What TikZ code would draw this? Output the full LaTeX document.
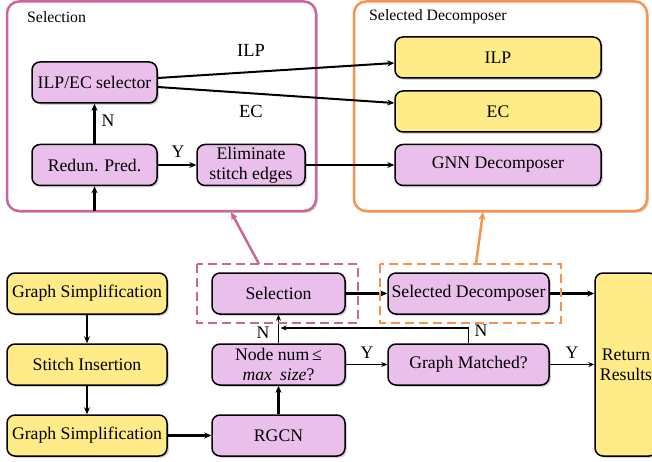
\documentclass[tikz,border=0pt]{standalone}
\usepackage{fontspec}
\setmainfont{Liberation Serif}
\usetikzlibrary{arrows.meta,shadows,calc}
\definecolor{pfill}{RGB}{235,191,235}
\definecolor{yfill}{RGB}{255,235,135}
\definecolor{pinkline}{RGB}{204,102,153}
\definecolor{orangeline}{RGB}{247,147,77}
\begin{document}
\begin{tikzpicture}[x=1pt,y=-1pt,
  shd/.style={drop shadow={shadow xshift=1.8pt, shadow yshift=-1.8pt, opacity=0.35}},
  nd/.style={draw=black, line width=1.5pt, rounded corners=8pt, inner sep=0pt,
    font=\fontsize{17.7}{20}\selectfont, align=center, shd},
  pnode/.style={nd, fill=pfill},
  ynode/.style={nd, fill=yfill},
  tarr/.style={line width=2.4pt, -{Stealth[length=7pt,width=6pt]}},
  marr/.style={line width=2pt, -{Stealth[length=7pt,width=6pt]}},
  narr/.style={line width=1.3pt, -{Stealth[length=6pt,width=5pt]}},
  lbl/.style={font=\fontsize{17.7}{20}\selectfont, inner sep=0pt},
  grp/.style={line width=2.5pt, rounded corners=12pt, fill=white, shd},
  grplbl/.style={anchor=west, font=\fontsize{15.8}{18}\selectfont, inner sep=0pt},
  dbox/.style={line width=2.2pt, dash pattern=on 9pt off 5pt}]
\useasboundingbox (0,0) rectangle (652,462);
\clip (0,0) rectangle (652,462);
\fill[white] (0,0) rectangle (652,462);

% group boxes
\draw[grp, draw=pinkline] (7,1.5) rectangle (316,211);
\draw[grp, draw=orangeline] (354,1.5) rectangle (647,211);
\node[grplbl] (sellbl) at (27,17) {Selection};
\node[grplbl] (declbl) at (369,17) {Selected Decomposer};

% selection internals
\node[pnode, minimum width=125pt, minimum height=41pt] (ilpec) at (94.5,82.5) {ILP/EC selector};
\node[pnode, minimum width=125pt, minimum height=41pt] (redun) at (94.5,165) {Redun. Pred.};
\node[pnode, minimum width=108pt, minimum height=41pt] (elim) at (251,165) {Eliminate\\stitch edges};

% decomposer internals
\node[ynode, minimum width=206pt, minimum height=41pt] (ilp) at (498,57.5) {ILP};
\node[ynode, minimum width=206pt, minimum height=41pt] (ec) at (498,111.5) {EC};
\node[pnode, minimum width=206pt, minimum height=41pt] (gnn) at (498,165) {GNN Decomposer};

\coordinate (selbot) at (94.5,211);
\draw[tarr] (selbot) -- (redun);
\draw[tarr] (redun) -- (ilpec);
\node[lbl] (nlbl1) at (108,121) {N};
\draw[tarr] (redun) -- (elim);
\node[lbl] (ylbl1) at (178,152) {Y};
\draw[marr] ($(ilpec.east)+(0,-4.5)$) -- ($(ilp.west)+(0,5.5)$);
\draw[marr] ($(ilpec.east)+(0,4.5)$) -- ($(ec.west)+(0,-8.5)$);
\node[lbl, font=\fontsize{18.5}{21}\selectfont] (ilplbl) at (251,50) {ILP};
\node[lbl, font=\fontsize{18.5}{21}\selectfont] (eclbl) at (251,111) {EC};
\draw[tarr] (elim) -- (gnn);

% bottom flow
\node[ynode, minimum width=160pt, minimum height=41pt] (gs1) at (87,293.5) {Graph Simplification};
\node[ynode, minimum width=160pt, minimum height=41pt] (si) at (87,364.5) {Stitch Insertion};
\node[ynode, minimum width=160pt, minimum height=41pt] (gs2) at (87,435.5) {Graph Simplification};
\node[pnode, minimum width=133pt, minimum height=41pt] (sel) at (278.5,293.5) {Selection};
\node[pnode, minimum width=133pt, minimum height=41pt] (nn) at (278.5,364.5) {Node num\,≤\\\textit{max\hspace{0.45em}size}?};
\node[pnode, minimum width=133pt, minimum height=41pt] (rgcn) at (278.5,435.5) {RGCN};
\node[pnode, minimum width=161pt, minimum height=41pt] (sd) at (468.5,293.5) {Selected Decomposer};
\node[pnode, minimum width=161pt, minimum height=41pt] (gm) at (468.5,364.5) {Graph Matched?};
\node[ynode, minimum width=62pt, minimum height=183pt] (ret) at (626,364.5) {Return\\Results};

\draw[tarr] (gs1) -- (si);
\draw[tarr] (si) -- (gs2);
\draw[tarr] (gs2) -- (rgcn);
\draw[tarr] (rgcn) -- (nn);
\draw[narr] (nn) -- (sel);
\node[lbl] (nlbl2) at (263,333) {N};
\draw[tarr] (sel) -- (sd);
\draw[tarr] (sd) -- (sd -| ret.west);
\draw[narr] (nn) -- (gm);
\node[lbl] (ylbl2) at (367,353) {Y};
\draw[narr] (gm) -- (ret);
\node[lbl] (ylbl3) at (572,353) {Y};
\coordinate (fb) at (280.5,328);
\draw[narr] (gm.north) |- (fb);
\node[lbl] (nlbl3) at (481,331) {N};

% dashed highlight boxes and callouts
\draw[dbox, pinkline] (197,264) rectangle (358,323);
\draw[dbox, orangeline] (380,264) rectangle (561,323);
\coordinate (pd) at (259,264);
\coordinate (pu) at (231,212);
\draw[pinkline, line width=2.5pt, -{Stealth[length=8pt,width=7pt]}] (pd) -- (pu);
\coordinate (od) at (476,264);
\coordinate (ou) at (483,212);
\draw[orangeline, line width=2.5pt, -{Stealth[length=8pt,width=7pt]}] (od) -- (ou);
\end{tikzpicture}
\end{document}
